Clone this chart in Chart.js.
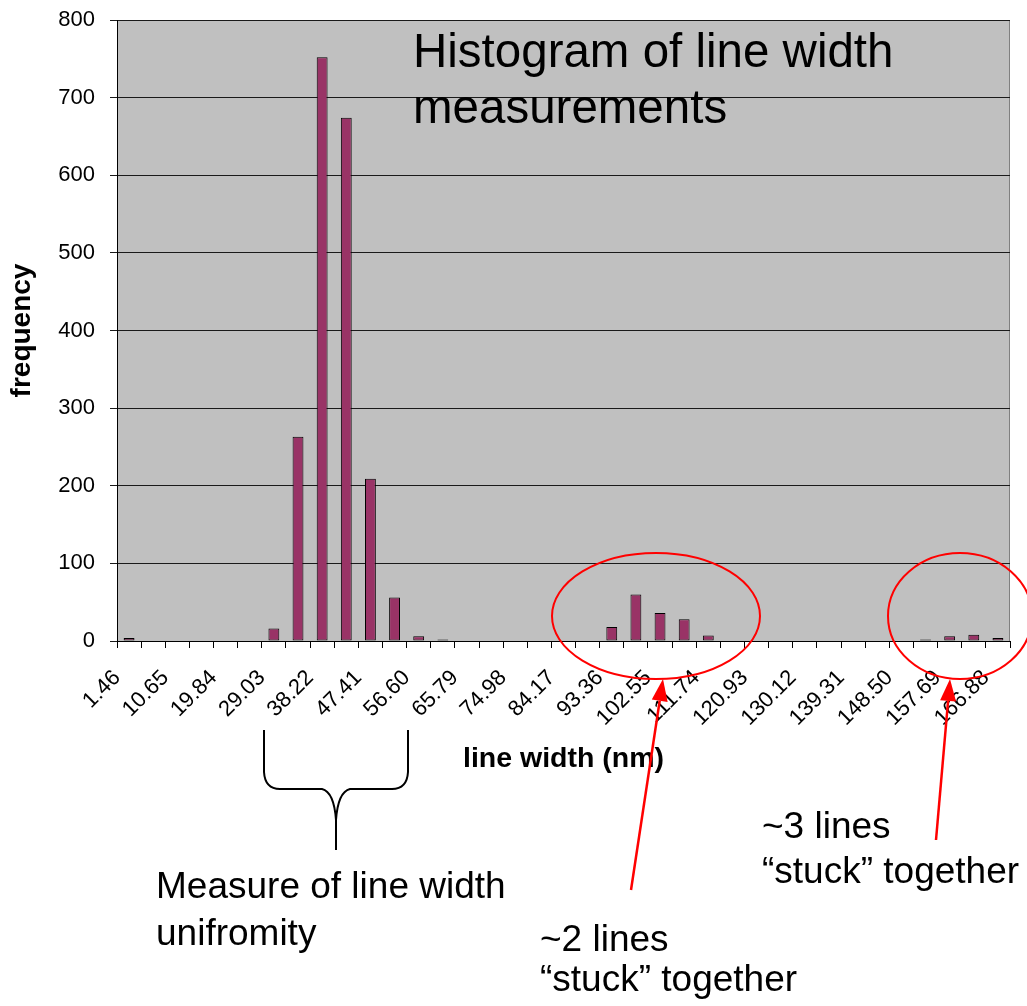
<!DOCTYPE html>
<html>
<head>
<meta charset="utf-8">
<title>Histogram of line width measurements</title>
<script src="https://cdn.jsdelivr.net/npm/chart.js@4.4.1/dist/chart.umd.min.js"></script>
<style>
    html, body { margin: 0; padding: 0; background: #ffffff; }
    #histChart { display: block; }
</style>
</head>
<body>
<canvas id="histChart" width="1027" height="1006"></canvas>
<script>
// Bin starts (nm), one bar per bin; Excel only labels every other bin
const binLabels = [
    '1.46', '6.06', '10.65', '15.25', '19.84', '24.44', '29.03', '33.63',
    '38.22', '42.82', '47.41', '52.01', '56.60', '61.20', '65.79', '70.39',
    '74.98', '79.58', '84.17', '88.77', '93.36', '97.96', '102.55', '107.15',
    '111.74', '116.34', '120.93', '125.53', '130.12', '134.72', '139.31', '143.91',
    '148.50', '153.10', '157.69', '162.29', '166.88'
];

// Frequency per bin
const frequency = [
    4, 0, 0, 0, 0, 0, 16, 263, 752, 674, 209, 56, 6, 2, 0, 0,
    0, 0, 0, 0, 18, 60, 36, 28, 7, 0, 0, 0, 0, 0, 0, 0,
    0, 2, 6, 8, 4
];

const yTicks = [0, 100, 200, 300, 400, 500, 600, 700, 800];

const FONT = '"Liberation Sans", Arial, sans-serif';

// Gray plot area like the Excel default
const plotBackground = {
    id: 'plotBackground',
    beforeDraw(chart) {
        const { ctx, chartArea: a } = chart;
        ctx.save();
        ctx.fillStyle = '#c0c0c0';
        ctx.fillRect(a.left, a.top, a.right - a.left, a.bottom - a.top);
        ctx.strokeStyle = '#808080';
        ctx.lineWidth = 1;
        ctx.beginPath();
        ctx.moveTo(a.left, a.top + 0.5);
        ctx.lineTo(a.right - 0.5, a.top + 0.5);
        ctx.lineTo(a.right - 0.5, a.bottom);
        ctx.stroke();
        ctx.restore();
    }
};

function drawArrow(ctx, x0, y0, x1, y1) {
    const ang = Math.atan2(y1 - y0, x1 - x0);
    const headLen = 22, headHalf = 8;
    const bx = x1 - headLen * Math.cos(ang);
    const by = y1 - headLen * Math.sin(ang);
    ctx.beginPath();
    ctx.moveTo(x0, y0);
    ctx.lineTo(bx, by);
    ctx.stroke();
    ctx.beginPath();
    ctx.moveTo(x1, y1);
    ctx.lineTo(bx + headHalf * Math.sin(ang), by - headHalf * Math.cos(ang));
    ctx.lineTo(bx - headHalf * Math.sin(ang), by + headHalf * Math.cos(ang));
    ctx.closePath();
    ctx.fill();
}

// Slide annotations: title, brace, red ellipses and arrows, notes
const annotations = {
    id: 'annotations',
    afterDraw(chart) {
        const { ctx } = chart;
        const x = chart.scales.x;
        const half = (x.getPixelForValue(1) - x.getPixelForValue(0)) / 2;

        ctx.save();
        ctx.fillStyle = '#000';
        ctx.textBaseline = 'alphabetic';
        ctx.textAlign = 'left';

        ctx.font = '47.5px ' + FONT;
        ctx.fillText('Histogram of line width', 413, 67);
        ctx.fillText('measurements', 413, 123);

        // brace under bins 6..11
        const bl = Math.round(x.getPixelForValue(6) - half) + 2;
        const br = Math.round(x.getPixelForValue(11) + half) + 1;
        const bm = (bl + br) / 2;
        ctx.strokeStyle = '#000';
        ctx.lineWidth = 2;
        ctx.beginPath();
        ctx.moveTo(bl, 730);
        ctx.lineTo(bl, 772);
        ctx.quadraticCurveTo(bl + 1, 789, bl + 16, 789);
        ctx.lineTo(bm - 14, 789);
        ctx.quadraticCurveTo(bm - 2, 792, bm, 820);
        ctx.lineTo(bm, 850);
        ctx.moveTo(br, 730);
        ctx.lineTo(br, 772);
        ctx.quadraticCurveTo(br - 1, 789, br - 16, 789);
        ctx.lineTo(bm + 14, 789);
        ctx.quadraticCurveTo(bm + 2, 792, bm, 820);
        ctx.stroke();

        // red ellipses and arrows
        ctx.strokeStyle = '#ff0000';
        ctx.fillStyle = '#ff0000';
        ctx.lineWidth = 2;
        ctx.beginPath();
        ctx.ellipse(656, 616, 104, 63, 0, 0, Math.PI * 2);
        ctx.stroke();
        ctx.beginPath();
        ctx.ellipse(960, 616, 72, 63, 0, 0, Math.PI * 2);
        ctx.stroke();
        ctx.lineWidth = 2.5;
        drawArrow(ctx, 631, 890, 663, 679);
        drawArrow(ctx, 936, 840, 950, 679);

        // notes
        ctx.fillStyle = '#000';
        ctx.font = '37px ' + FONT;
        ctx.fillText('Measure of line width', 156, 898);
        ctx.fillText('unifromity', 156, 945);
        ctx.fillText('~2 lines', 540, 951);
        ctx.fillText('\u201Cstuck\u201D together', 540, 991);
        ctx.fillText('~3 lines', 762, 838);
        ctx.fillText('\u201Cstuck\u201D together', 762, 883);
        ctx.restore();
    }
};

const ctx = document.getElementById('histChart');
new Chart(ctx, {
    type: 'bar',
    data: {
        labels: binLabels,
        datasets: [{
            label: 'frequency',
            data: frequency,
            backgroundColor: '#993366',
            borderColor: '#000000',
            borderWidth: 1,
            borderSkipped: false,
            barPercentage: 0.45,
            categoryPercentage: 1.0
        }]
    },
    options: {
        responsive: false,
        animation: false,
        devicePixelRatio: 1,
        layout: {
            padding: { top: 20, right: 17, bottom: 0, left: 0 }
        },
        plugins: {
            legend: { display: false },
            tooltip: { enabled: false }
        },
        scales: {
            x: {
                grid: {
                    offset: true,
                    drawOnChartArea: false,
                    drawTicks: true,
                    tickLength: 7,
                    color: '#000'
                },
                border: { display: true, color: '#000', width: 1 },
                ticks: {
                    autoSkip: false,
                    minRotation: 45,
                    maxRotation: 45,
                    padding: 17,
                    labelOffset: -12,
                    color: '#000',
                    font: { family: FONT, size: 22 },
                    callback: (v, i) => (i % 2 === 0 ? binLabels[i] : '')
                },
                title: {
                    display: true,
                    text: 'line width (nm)',
                    color: '#000',
                    font: { family: FONT, size: 28.5, weight: 'bold' },
                    padding: { top: 0, bottom: 230 }
                },
                afterFit(scale) {
                    scale.height = 365;
                    scale.paddingLeft = 0;
                    scale.paddingRight = 0;
                }
            },
            y: {
                min: 0,
                max: 800,
                afterBuildTicks(scale) {
                    scale.ticks = yTicks.map(v => ({ value: v }));
                },
                grid: {
                    drawTicks: true,
                    tickLength: 7,
                    color: '#1a1a1a',
                    lineWidth: 1
                },
                border: { display: true, color: '#000', width: 1 },
                ticks: {
                    padding: 15,
                    color: '#000',
                    font: { family: FONT, size: 22 }
                },
                title: {
                    display: true,
                    text: 'frequency',
                    color: '#000',
                    font: { family: FONT, size: 28, weight: 'bold' },
                    padding: { top: 5, bottom: 0 }
                },
                afterFit(scale) {
                    scale.width = 117;
                    scale.paddingTop = 0;
                    scale.paddingBottom = 0;
                }
            }
        }
    },
    plugins: [plotBackground, annotations]
});
</script>
</body>
</html>
